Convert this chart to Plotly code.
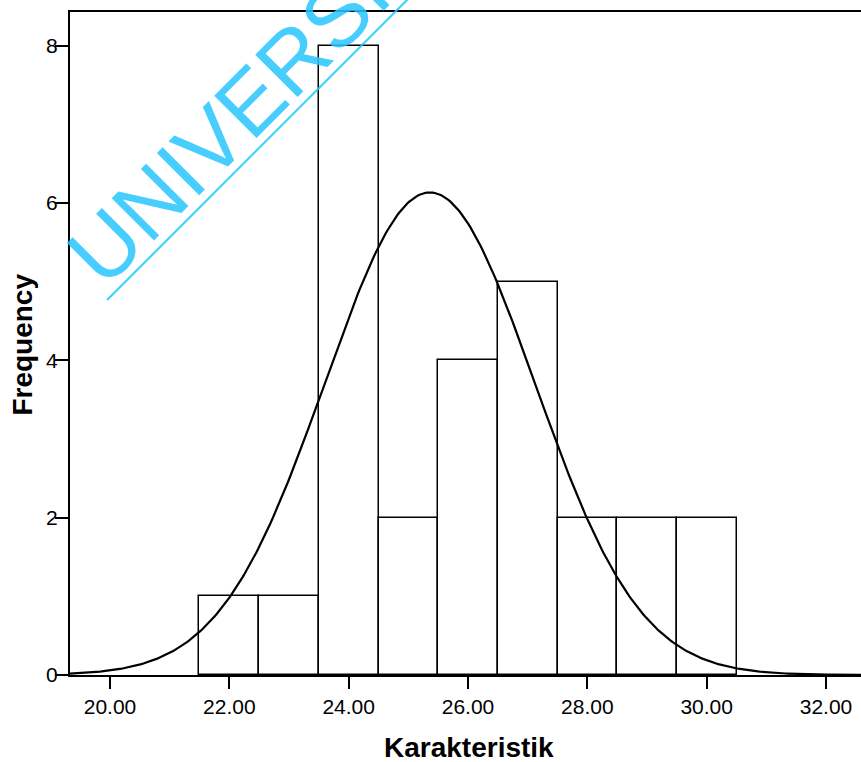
import numpy as np
import plotly.graph_objects as go

# Histogram of "Karakteristik" (bin width 1.00)
bin_centers = [22, 23, 24, 25, 26, 27, 28, 29, 30]
frequency = [1, 1, 8, 2, 4, 5, 2, 2, 2]
bin_width = 1.0

# Fitted normal curve parameters
curve_mean = 25.36
curve_sd = 1.756
n_total = sum(frequency)

x_ticks = [20, 22, 24, 26, 28, 30, 32]
x_tick_labels = ["20.00", "22.00", "24.00", "26.00", "28.00", "30.00", "32.00"]
y_ticks = [0, 2, 4, 6, 8]

x_range = [19.33, 32.586]
y_range = [0, 8.428]

xs = np.linspace(x_range[0], x_range[1], 400)
ys = n_total * bin_width / (curve_sd * np.sqrt(2 * np.pi)) * np.exp(-0.5 * ((xs - curve_mean) / curve_sd) ** 2)

fig = go.Figure()
fig.add_trace(go.Bar(
    x=bin_centers, y=frequency, width=bin_width,
    marker=dict(color="white", line=dict(color="black", width=1.5)),
    hoverinfo="skip", showlegend=False,
))
# normal curve on the label-carrying axis (same range as the main y axis)
fig.add_trace(go.Scatter(
    x=xs, y=ys, mode="lines", yaxis="y2",
    line=dict(color="black", width=2.2),
    hoverinfo="skip", showlegend=False,
))

tick_font = dict(family="Arial, Liberation Sans, sans-serif", size=21, color="black")
title_font = dict(family="Arial, Liberation Sans, sans-serif", size=28, color="black")
mark_color = "rgb(40,198,255)"

fig.update_layout(
    width=861, height=762,
    margin=dict(l=70, r=0, t=12, b=87),
    paper_bgcolor="white", plot_bgcolor="white",
    bargap=0,
    xaxis=dict(
        range=x_range, tickmode="array", tickvals=x_ticks, ticktext=x_tick_labels,
        showgrid=False, zeroline=False, showline=True, linecolor="black", linewidth=2,
        mirror=True, ticks="outside", ticklen=12, tickwidth=2, tickcolor="black",
        tickfont=tick_font,
    ),
    # long tick marks, no labels
    yaxis=dict(
        range=y_range, tickmode="array", tickvals=y_ticks,
        showgrid=False, zeroline=False, showline=True, linecolor="black", linewidth=2,
        ticks="outside", ticklen=13, tickwidth=2, tickcolor="black",
        showticklabels=False,
    ),
    # labels set close to the tick marks
    yaxis2=dict(
        range=y_range, tickmode="array", tickvals=y_ticks, overlaying="y", side="left",
        showgrid=False, zeroline=False, showline=False,
        ticks="outside", ticklen=7, tickwidth=2, tickcolor="black",
        tickfont=tick_font,
    ),
    annotations=[
        dict(text="<b>Karakteristik</b>", xref="paper", yref="paper",
             x=0.5038, y=-0.1101, xanchor="center", yanchor="middle",
             showarrow=False, font=title_font),
        dict(text="<b>Frequency</b>", xref="paper", yref="paper",
             x=-0.0612, y=0.4977, xanchor="center", yanchor="middle",
             textangle=-90, showarrow=False, font=title_font),
        # diagonal watermark
        dict(text="UNIVERSITAS", xref="paper", yref="paper",
             x=0.2729, y=0.9192, xanchor="center", yanchor="middle",
             textangle=-45, showarrow=False, opacity=0.85,
             font=dict(family="Arial, Liberation Sans, sans-serif", size=87,
                       color=mark_color)),
    ],
    shapes=[
        dict(type="line", xref="paper", yref="paper",
             x0=0.0468, y0=0.5656, x1=0.4425, y1=1.0377,
             line=dict(color=mark_color, width=2.2), opacity=0.85,
             layer="above"),
    ],
)

fig.write_html("out.html")
